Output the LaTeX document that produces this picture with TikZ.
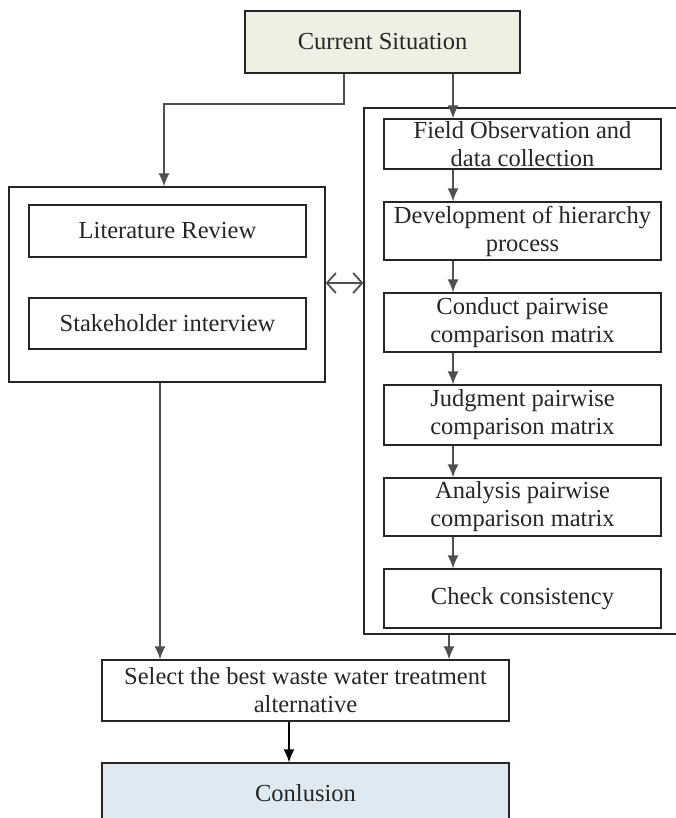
\documentclass[tikz,border=0pt]{standalone}
\usepackage{fontspec}
\setmainfont{Liberation Serif}
\usetikzlibrary{arrows.meta}
\definecolor{curfill}{HTML}{EEF0E4}
\definecolor{conclfill}{HTML}{DFE9F2}
\definecolor{linegray}{HTML}{505050}
\definecolor{boxline}{HTML}{262626}
\begin{document}
\begin{tikzpicture}[x=1pt,y=-1pt,
  box/.style={draw=boxline,line width=1.3pt,rectangle,inner sep=0pt,align=center,
    text=black!85,font=\fontsize{24.5}{28}\selectfont},
  outer/.style={draw=boxline,line width=1.3pt,rectangle,inner sep=0pt},
  conn/.style={draw=linegray,line width=1.4pt,-{Latex[length=13pt,width=11pt]}},
  dconn/.style={draw=linegray,line width=1.6pt,{Straight Barb[length=9pt,width=20pt,line width=1.8pt]}-{Straight Barb[length=9pt,width=20pt,line width=1.8pt]}}
]
\useasboundingbox (0,0) rectangle (676,818);
\clip (0,0) rectangle (676,818);
\fill[white] (0,0) rectangle (676,818);

% outer containers
\node[outer,minimum width=316pt,minimum height=195pt] (lo) at (167,284.5) {};
\node[outer,minimum width=330pt,minimum height=526pt] (ro) at (529,371) {};

% top
\node[box,fill=curfill,minimum width=275pt,minimum height=62pt] (cur) at (382.5,42) {Current Situation};

% left column
\node[box,minimum width=277pt,minimum height=52pt] (lit) at (167.5,231) {Literature Review};
\node[box,minimum width=277pt,minimum height=51pt] (stk) at (167.5,323.5) {Stakeholder interview};

% right column
\node[box,minimum width=277pt,minimum height=50pt] (fld) at (522.5,144) {Field Observation and\\data collection};
\node[box,minimum width=277pt,minimum height=58pt] (dev) at (522.5,231) {Development of hierarchy\\process};
\node[box,minimum width=277pt,minimum height=59pt] (con) at (522.5,322.5) {Conduct pairwise\\comparison matrix};
\node[box,minimum width=277pt,minimum height=60pt] (jud) at (522.5,415) {Judgment pairwise\\comparison matrix};
\node[box,minimum width=277pt,minimum height=58pt] (ana) at (522.5,507) {Analysis pairwise\\comparison matrix};
\node[box,minimum width=277pt,minimum height=59pt] (chk) at (522.5,598.5) {Check consistency};

% bottom
\node[box,minimum width=407pt,minimum height=61pt] (sel) at (305.5,690.5) {Select the best waste water treatment\\alternative};
\node[box,fill=conclfill,minimum width=407pt,minimum height=60pt] (cnc) at (305.5,793) {Conlusion};

% helper coordinates
\coordinate (k0) at (344,0);
\coordinate (k1) at (164,104);
\coordinate (ka) at (453,0);
\coordinate (kb) at (449,0);
\coordinate (kl) at (160,0);
\coordinate (kd) at (0,283);
\coordinate (ks) at (289,0);

% connectors
\draw[conn] (cur.south -| k0) |- (k1) -- (lo.north -| k1);
\draw[conn] (cur.south -| ka) -- (fld.north -| ka);
\draw[conn] (fld.south -| ka) -- (dev.north -| ka);
\draw[conn] (dev.south -| ka) -- (con.north -| ka);
\draw[conn] (con.south -| ka) -- (jud.north -| ka);
\draw[conn] (jud.south -| ka) -- (ana.north -| ka);
\draw[conn] (ana.south -| ka) -- (chk.north -| ka);
\draw[dconn] (lo.east |- kd) -- (ro.west |- kd);
\draw[conn] (lo.south -| kl) -- (sel.north -| kl);
\draw[conn] (ro.south -| kb) -- (sel.north -| kb);
\draw[conn,draw=black] (sel.south -| ks) -- (cnc.north -| ks);
\end{tikzpicture}
\end{document}
